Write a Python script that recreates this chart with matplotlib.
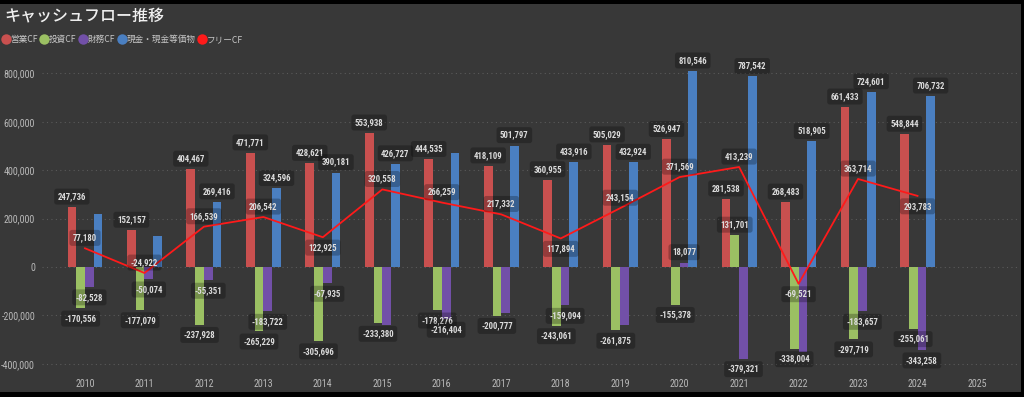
import numpy as np
import matplotlib
matplotlib.use("Agg")
import matplotlib.pyplot as plt
from matplotlib.patches import Rectangle
from matplotlib.lines import Line2D
import logging
logging.getLogger('matplotlib.font_manager').setLevel(logging.ERROR)

# ---------------- data ----------------
years = ["2010", "2011", "2012", "2013", "2014", "2015", "2016", "2017",
         "2018", "2019", "2020", "2021", "2022", "2023", "2024", "2025"]
operating_cf = [247736, 152157, 404467, 471771, 428621, 553938, 444535, 418109,
                360955, 505029, 526947, 281538, 268483, 661433, 548844]
investing_cf = [-170556, -177079, -237928, -265229, -305696, -233380, -178276, -200777,
                -243061, -261875, -155378, 131701, -338004, -297719, -255061]
financing_cf = [-82528, -50074, -55351, -183722, -67935, -240000, -216404, -190000,
                -159094, -238000, 18077, -379321, -352000, -183657, -343258]
cash_eq = [217000, 129000, 269416, 324596, 390181, 426727, 473000, 501797,
           433916, 432924, 810546, 787542, 518905, 724601, 706732]
free_cf = [77180, -24922, 166539, 206542, 122925, 320558, 266259, 217332,
           117894, 243154, 371569, 413239, -69521, 363714, 293783]

series_names = ["営業CF", "投資CF", "財務CF", "現金・現金等価物"]
line_name = "フリーCF"
title = "キャッシュフロー推移"

# labels hidden in the reference (overlap avoidance): (series index, year index)
hidden_labels = {(3, 0), (3, 1), (2, 5), (3, 6), (2, 7), (2, 9), (2, 12)}
# free CF label placed below the point for these year indices
fcf_below = {4, 8, 12, 14}

# ---------------- style ----------------
bg = "#383838"
colors = ["#c9504f", "#9bc063", "#7250a8", "#4a7fc1"]
line_color = "#ff1a1a"
txt_color = "#dcdcdc"
tick_color = "#b8b8b8"
num_font = ["Roboto Condensed", "Liberation Sans Narrow", "DejaVu Sans"]
cjk_font = ["Noto Sans CJK JP", "DejaVu Sans"]

W, H = 1024, 397
fig = plt.figure(figsize=(W / 100, H / 100), dpi=100)
fig.patch.set_facecolor("black")
fig.add_artist(Rectangle((0, 5 / H), 1021 / W, (H - 9) / H, transform=fig.transFigure,
                         facecolor=bg, edgecolor="none", zorder=-10))

ax_left, ax_right = 42 / W, 1018 / W
ax_bottom, ax_top = 1 - 371 / H, 1 - 58.9 / H
ax = fig.add_axes([ax_left, ax_bottom, ax_right - ax_left, ax_top - ax_bottom])
ax.set_facecolor("none")
for s in ax.spines.values():
    s.set_visible(False)

n = len(operating_cf)
x = np.arange(n)
bw = 0.147
offsets = [-1.5 * bw, -0.5 * bw, 0.5 * bw, 1.5 * bw]
all_series = [operating_cf, investing_cf, financing_cf, cash_eq]

ax.set_xlim(-0.723, 15.69)
ax.set_ylim(-430000, 860000)
ax.set_yticks([-400000, -200000, 0, 200000, 400000, 600000, 800000])
ax.yaxis.set_major_formatter(matplotlib.ticker.FuncFormatter(lambda v, p: f"{int(v):,}"))
ax.set_xticks(np.arange(len(years)))
ax.set_xticklabels(years)
ax.tick_params(axis="both", length=0, colors=tick_color, labelsize=7.2)
ax.tick_params(axis="y", pad=5)
ax.tick_params(axis="x", pad=6)
for lab in ax.get_xticklabels() + ax.get_yticklabels():
    lab.set_family(num_font)
    lab.set_fontstretch("condensed")
ax.grid(axis="y", color="#5a5a5a", linestyle=(0, (1, 3)), linewidth=0.8)
ax.set_axisbelow(True)

bbox_style = dict(boxstyle="round,pad=0.4,rounding_size=0.3", facecolor="black",
                  alpha=0.25, edgecolor="none")

def add_label(xv, yv, dy):
    ax.annotate(f"{yv:,}", xy=(xv, yv), xytext=(0, dy), textcoords="offset points",
                ha="center", va="center", fontsize=6.3, color=txt_color,
                family=num_font, fontstretch="condensed", fontweight="bold",
                bbox=bbox_style, zorder=6)

for i, (vals, off, col) in enumerate(zip(all_series, offsets, colors)):
    ax.bar(x + off, vals, width=bw, color=col, zorder=2, linewidth=0)
    for j, v in enumerate(vals):
        if (i, j) in hidden_labels:
            continue
        add_label(j + off, v, 7.5 if v >= 0 else -7.5)

ax.plot(x, free_cf, color=line_color, linewidth=1.3, zorder=4)
for j, v in enumerate(free_cf):
    add_label(j, v, -7.5 if j in fcf_below else 7.5)

# title
fig.text(4 / W, 1 - 16 / H, title, color="#f0f0f0", fontsize=11.5, family=cjk_font,
         fontweight="medium", va="center", ha="left")

# legend
handles = [Line2D([], [], marker="o", linestyle="none", markersize=7.5,
                  markerfacecolor=c, markeredgecolor="none") for c in colors]
handles.append(Line2D([], [], marker="o", linestyle="none", markersize=7.5,
                      markerfacecolor=line_color, markeredgecolor="none"))
leg = fig.legend(handles, series_names + [line_name], loc="center left",
                 bbox_to_anchor=(3 / W, 1 - 39.5 / H), ncol=5, frameon=False,
                 handlelength=0.6, handletextpad=0.25, columnspacing=0.45,
                 borderaxespad=0, borderpad=0,
                 prop={"family": cjk_font, "size": 6.2})
for t in leg.get_texts():
    t.set_color("#c8c8c8")

fig.savefig("out.png", dpi=100, facecolor=fig.get_facecolor())
